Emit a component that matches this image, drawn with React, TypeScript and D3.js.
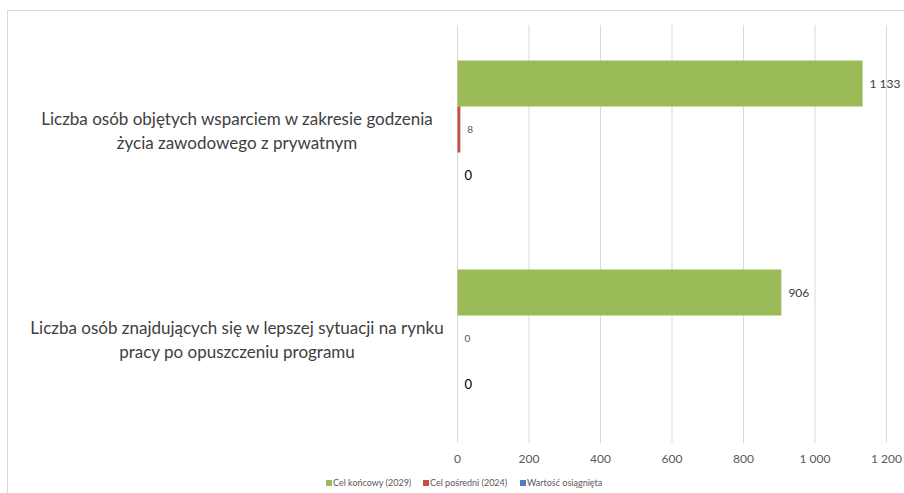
import React from 'react';
import * as d3 from 'd3';

const categories = [
  ['Liczba osób objętych wsparciem w zakresie godzenia', 'życia zawodowego z prywatnym'],
  ['Liczba osób znajdujących się w lepszej sytuacji na rynku', 'pracy po opuszczeniu programu'],
];
const seriesNames = ['Cel końcowy (2029)', 'Cel pośredni (2024)', 'Wartość osiągnięta'];
const seriesColors = ['#9BBB59', '#C0504D', '#4F81BD'];
const finalTarget = [1133, 906];
const midTarget = [8, 0];
const achieved = [0, 0];
const xTicks = [0, 200, 400, 600, 800, 1000, 1200];

const W = 904, H = 493;
const plot = { left: 457.5, right: 886.5, top: 25, bottom: 443 };

const pl = d3.formatLocale({ decimal: ',', thousands: ' ', grouping: [3], currency: ['', ''] });
const fmt = pl.format(',d');

// per-series label style, the middle one is smaller and gray like in the source
const labelStyle = [
  { size: 12, color: '#404040' },
  { size: 10, color: '#595959' },
  { size: 13, color: '#000000' },
];

export default function App() {
  const values = [finalTarget, midTarget, achieved];
  const x = d3.scaleLinear().domain([0, 1200]).range([plot.left, plot.right]);
  const y = d3.scaleBand<number>()
    .domain(categories.map((_, i) => i))
    .range([plot.top, plot.bottom])
    .paddingInner(0.34)
    .paddingOuter(0.17);
  const ys = d3.scaleBand<number>()
    .domain(seriesNames.map((_, i) => i))
    .range([0, y.bandwidth()]);

  const font = 'Lato, Carlito, "Open Sans", sans-serif';

  return (
    <svg width={W} height={H} style={{ position: 'absolute', left: 0, top: 0, background: '#fff' }}
      fontFamily={font}>
      <rect x={7.5} y={10.5} width={W} height={H} fill="#fff" stroke="#d9d9d9" />

      {xTicks.map(t => (
        <g key={t}>
          <line x1={x(t)} x2={x(t)} y1={plot.top} y2={plot.bottom} stroke="#d9d9d9" />
          <text x={x(t)} y={463} textAnchor="middle" fontSize={12} fill="#595959">{fmt(t)}</text>
        </g>
      ))}

      {categories.map((lines, ci) => {
        const cy = y(ci)! + y.bandwidth() / 2;
        return (
          <text key={ci} x={237} textAnchor="middle" fontSize={17} fill="#404040">
            {lines.map((l, li) => (
              <tspan key={li} x={237} y={cy - 5 + li * 24}>{l}</tspan>
            ))}
          </text>
        );
      })}

      {values.map((vals, si) => vals.map((v, ci) => {
        const by = y(ci)! + ys(si)!;
        const bh = ys.bandwidth();
        const st = labelStyle[si];
        return (
          <g key={si + '-' + ci}>
            {v > 0 && (
              <rect x={x(0)} y={by} width={x(v) - x(0)} height={bh} fill={seriesColors[si]} />
            )}
            <text x={x(v) + 7} y={by + bh / 2} dy="0.35em" fontSize={st.size} fill={st.color}>
              {fmt(v)}
            </text>
          </g>
        );
      }))}

      {seriesNames.map((n, i) => {
        const lx = [326, 423, 520][i];
        return (
          <g key={n}>
            <rect x={lx} y={480} width={6} height={6} fill={seriesColors[i]} />
            <text x={lx + 7} y={483} dy="0.35em" fontSize={9} fill="#595959">{n}</text>
          </g>
        );
      })}
    </svg>
  );
}
